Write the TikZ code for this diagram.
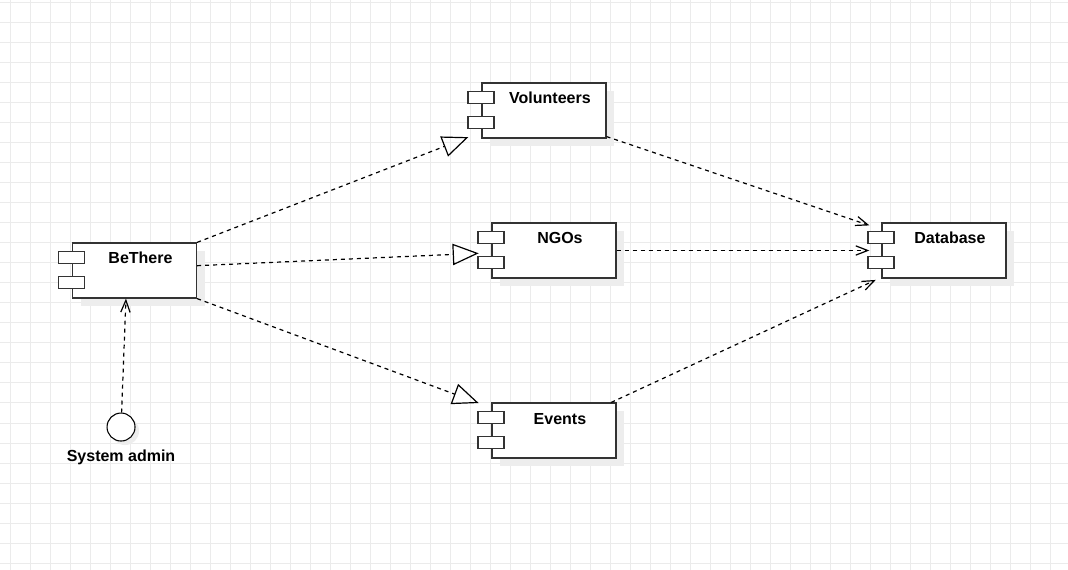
\documentclass[tikz,border=0pt]{standalone}
\usepackage{fontspec}
\setmainfont{Liberation Sans}
\usepackage{tikz}
\usetikzlibrary{arrows.meta,shadows}
\tikzstyle{comp} = [draw=black!80, fill=white, line width=0.9pt, minimum width=93pt, minimum height=41.25pt, inner sep=0pt, text height=15.75pt, text depth=25.5pt, font=\fontsize{12}{14}\selectfont\bfseries, execute at begin node=\hspace*{9pt}, drop shadow={shadow xshift=6pt, shadow yshift=-6pt, fill=black!7, opacity=1}]
\tikzstyle{port} = [draw=black!80, fill=white, line width=0.9pt]
\tikzstyle{actor} = [circle, draw=black, fill=white, line width=0.8pt, minimum size=21pt, inner sep=0pt, drop shadow={shadow xshift=3pt, shadow yshift=-3pt, fill=black!7, opacity=1}]
\tikzstyle{caption} = [font=\fontsize{12}{14}\selectfont\bfseries, inner sep=0pt]
\tikzstyle{gridline} = [draw=black!8, line width=0.75pt]
\tikzstyle{real} = [-{Triangle[open,length=19.5pt,width=16pt]}]

\begin{document}
\begin{tikzpicture}[x=0.75pt,y=-0.75pt,>={Straight Barb[length=9pt,width=7pt]},node distance=100pt]
  \useasboundingbox[fill=white] (0,0) rectangle (1068,570);
  \draw[gridline,shift={(10,3)},step=15pt] (-7.5pt,-425.25pt) grid (793.5pt,2.25pt);

  \node[comp] (bethere) at (134.5,270.5) {BeThere};
  \node[comp,right of=bethere,node distance=314.6pt,yshift=15pt] (ngos) {NGOs};
  \node[comp,above of=ngos,node distance=105pt,xshift=-7.5pt] (volunteers) {Volunteers};
  \node[comp,below of=ngos,node distance=135pt] (events) {Events};
  \node[comp,right of=ngos,node distance=292.5pt] (database) {Database};
  \node[actor,below of=bethere,node distance=117.4pt,xshift=-10.1pt] (admin) {};
  \node[caption,below of=admin,node distance=22.5pt] (adminText) {System admin};

  \foreach \c in {bethere,volunteers,ngos,events,database} {
    \draw[port] ([xshift=-10.1pt,yshift=-6.75pt]\c.north west) rectangle ++(19.5pt,-9pt);
    \draw[port] ([xshift=-10.1pt,yshift=-25.5pt]\c.north west) rectangle ++(19.5pt,-9pt);
  }

  \begin{scope}[every path/.style={draw,line width=0.9pt,dash pattern=on 3pt off 3pt}]
    \path[real] (bethere.north east) -- ([xshift=-9.75pt,yshift=1.1pt]volunteers.south west);
    \path[real] ([yshift=3.6pt]bethere.east) -- ([xshift=-9.5pt,yshift=-2.1pt]ngos.west);
    \path[real] (bethere.south east) -- ([xshift=-9.5pt,yshift=-0.5pt]events.north west);
    \path[->] ([yshift=1.5pt]volunteers.south east) -- ([xshift=-9pt,yshift=-2.25pt]database.north west);
    \path[->] (ngos.east) -- ([xshift=-9pt]database.west);
    \path[->] ([xshift=-4pt]events.north east) -- ([xshift=-4.2pt,yshift=-1pt]database.south west);
    \path[->] (admin) -- ([xshift=-6.4pt]bethere.south);
  \end{scope}

\end{tikzpicture}
\end{document}
